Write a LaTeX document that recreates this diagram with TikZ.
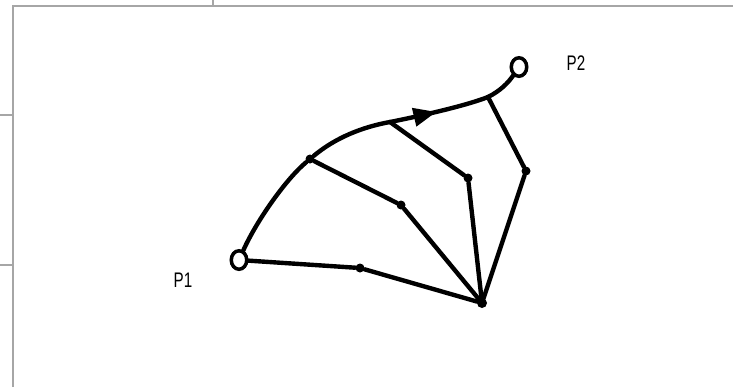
\documentclass[tikz,border=0pt]{standalone}
\usepackage{fontspec}
\newfontfamily\lblfont[FakeStretch=0.72]{Liberation Sans}
\usetikzlibrary{arrows.meta,shapes.geometric,decorations.markings}

\begin{document}
\begin{tikzpicture}[x=0.02cm,y=-0.02cm,>=Latex]
  \tikzstyle{frame}=[draw=black!35,line width=1.1pt]
  \tikzstyle{edge}=[line width=2.5pt,line cap=round,line join=round]
  \tikzstyle{endpt}=[ellipse,draw,line width=2pt,fill=white,inner sep=0pt,minimum width=0.31cm,minimum height=0.37cm]
  \tikzstyle{dot}=[circle,fill,inner sep=0pt,minimum size=0.18cm]
  \tikzstyle{lbl}=[font=\lblfont\fontsize{12}{14}\selectfont]
  \tikzstyle{dir}=[postaction={decorate},decoration={markings,mark=at position 0.47 with {\arrow{Triangle[length=0.46cm,width=0.36cm]}}}]
  \useasboundingbox (0,0) rectangle (733,387);
  % frame
  \draw[frame] (13,387) -- (13,6) -- (733,6);
  \draw[frame] (0,115) -- (13,115);
  \draw[frame] (0,265) -- (13,265);
  \draw[frame] (213,0) -- (213,6);
  % end points
  \node[endpt] (p1) at (239,260) {};
  \node[endpt] (p2) at (519,67) {};
  \node[lbl] (p1lbl) at (183,280) {P1};
  \node[lbl] (p2lbl) at (576,63) {P2};
  % inner points
  \node[dot] (a1) at (310,159) {};
  \coordinate (a2) at (390,122);
  \coordinate (a3) at (488,97);
  \node[dot] (d1) at (360,268) {};
  \node[dot] (d2) at (401,205) {};
  \node[dot] (d3) at (468,178) {};
  \node[dot] (d4) at (526,171) {};
  \node[dot,minimum size=0.2cm] (hub) at (482,303) {};
  % path from P1 to P2
  \draw[edge] (p1) .. controls (256,222) and (285,180) .. (a1);
  \draw[edge] (a1) .. controls (335,138) and (362,127) .. (a2);
  \draw[edge,dir] (a2) .. controls (420,116) and (465,106) .. (a3);
  \draw[edge] (a3) .. controls (500,91) and (508,83) .. (p2);
  % spokes to the hub
  \draw[edge] (p1) -- (d1) -- (hub);
  \draw[edge] (a1) -- (d2) -- (hub);
  \draw[edge] (a2) -- (d3) -- (hub);
  \draw[edge] (a3) -- (d4) -- (hub);
\end{tikzpicture}
\end{document}
